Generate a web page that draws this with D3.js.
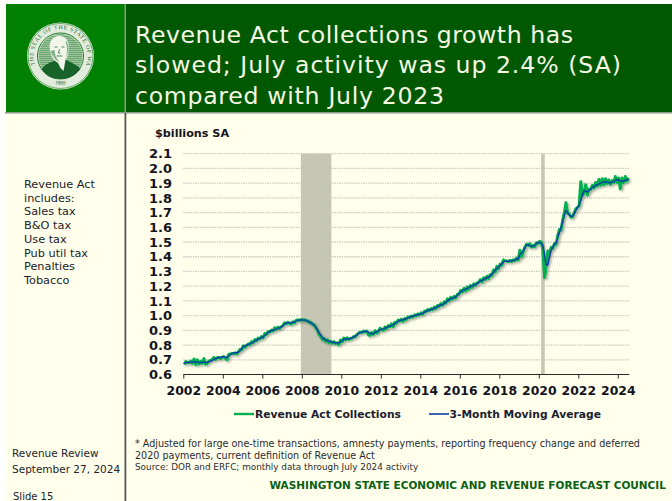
<!DOCTYPE html>
<html>
<head>
<meta charset="utf-8">
<script src="https://cdn.jsdelivr.net/npm/d3@7/dist/d3.min.js"></script>
<style>
html,body{margin:0;padding:0;background:#fff;}
svg{display:block;font-family:"DejaVu Sans",sans-serif;}
</style>
</head>
<body>
<svg id="slide" width="672" height="501"></svg>
<script>
// Title, side notes and footnotes
const titleLines = ["Revenue Act collections growth has", "slowed; July activity was up 2.4% (SA)", "compared with July 2023"];
const titleWidths = [438, 486, 309];
const sideNotes = ["Revenue Act", "includes:", "Sales tax", "B&O tax", "Use tax", "Pub util tax", "Penalties", "Tobacco"];
const footnotes = [
  "* Adjusted for large one-time transactions, amnesty payments, reporting frequency change and deferred",
  "2020 payments, current definition of Revenue Act",
  "Source: DOR and ERFC; monthly data through July 2024 activity"
];
const footnoteSizes = [9.6, 9.6, 8.85];
const yTicks = [0.6,0.7,0.8,0.9,1.0,1.1,1.2,1.3,1.4,1.5,1.6,1.7,1.8,1.9,2.0,2.1];
const xTicks = [2002,2004,2006,2008,2010,2012,2014,2016,2018,2020,2022,2024];
const recessions = [[2007.95,2009.5],[2020.12,2020.3]];
const seriesNames = ["Revenue Act Collections", "3-Month Moving Average"];

// Monthly values in $billions, January 2002 through July 2024
const collections = [
  .668,.688,.682,.680,.692,.676,.705,.668,.700,.672,.690,.675,
  .708,.670,.676,.690,.697,.700,.716,.702,.715,.716,.708,.716,
  .722,.712,.700,.735,.740,.744,.742,.748,.740,.755,.772,.766,
  .795,.785,.797,.808,.802,.824,.816,.838,.830,.848,.842,.858,
  .850,.878,.872,.892,.888,.902,.895,.918,.906,.922,.912,.925,
  .932,.952,.944,.955,.948,.942,.958,.950,.968,.972,.966,.974,
  .970,.972,.964,.966,.955,.956,.940,.938,.915,.900,.870,.860,
  .838,.846,.825,.836,.818,.826,.812,.824,.810,.815,.802,.835,
  .822,.848,.835,.850,.838,.845,.846,.858,.858,.872,.882,.888,
  .885,.895,.890,.895,.868,.866,.885,.872,.898,.882,.890,.915,
  .905,.900,.922,.912,.932,.924,.945,.925,.955,.948,.970,.962,
  .976,.960,.980,.974,.992,.986,.998,.990,1.006,.998,1.012,1.004,
  1.020,1.010,1.030,1.028,1.042,1.034,1.048,1.040,1.058,1.048,1.070,1.062,
  1.082,1.070,1.095,1.085,1.115,1.100,1.125,1.112,1.132,1.120,1.145,1.145,
  1.172,1.160,1.186,1.168,1.196,1.180,1.205,1.192,1.216,1.206,1.222,1.226,
  1.245,1.228,1.258,1.244,1.268,1.252,1.280,1.272,1.310,1.296,1.335,1.320,
  1.350,1.342,1.378,1.372,1.372,1.366,1.376,1.368,1.380,1.374,1.392,1.378,
  1.445,1.400,1.432,1.465,1.485,1.478,1.490,1.465,1.478,1.468,1.494,1.490,
  1.505,1.500,1.440,1.258,1.335,1.440,1.425,1.465,1.455,1.490,1.485,1.545,
  1.585,1.580,1.650,1.700,1.768,1.695,1.690,1.668,1.672,1.700,1.725,1.735,
  1.745,1.910,1.815,1.835,1.890,1.820,1.858,1.855,1.885,1.868,1.905,1.880,
  1.925,1.885,1.930,1.890,1.930,1.898,1.922,1.892,1.918,1.905,1.945,1.905,
  1.935,1.862,1.935,1.905,1.945,1.915,1.935
];
const movingAverage = [
  .675,.680,.683,.683,.684,.684,.685,.686,.684,.682,.682,.683,
  .684,.682,.683,.686,.690,.695,.703,.708,.712,.716,.718,.719,
  .720,.718,.716,.724,.734,.742,.746,.748,.748,.752,.762,.776,
  .790,.795,.800,.805,.810,.815,.820,.826,.833,.840,.846,.850,
  .855,.865,.875,.885,.892,.897,.900,.905,.910,.915,.918,.922,
  .930,.942,.950,.952,.952,.952,.953,.956,.962,.968,.971,.971,
  .971,.970,.968,.963,.958,.950,.945,.935,.922,.905,.885,.868,
  .852,.842,.835,.830,.826,.823,.821,.818,.816,.814,.815,.822,
  .830,.840,.842,.843,.843,.845,.850,.855,.860,.868,.878,.885,
  .888,.892,.893,.892,.888,.880,.876,.878,.885,.892,.898,.905,
  .908,.910,.915,.920,.925,.930,.933,.937,.945,.955,.963,.968,
  .970,.972,.975,.980,.985,.990,.994,.997,1.000,1.003,1.006,1.010,
  1.012,1.016,1.022,1.030,1.035,1.040,1.042,1.045,1.050,1.056,1.062,1.068,
  1.072,1.076,1.082,1.090,1.100,1.108,1.115,1.120,1.122,1.128,1.138,1.150,
  1.160,1.170,1.176,1.180,1.185,1.192,1.198,1.203,1.207,1.212,1.218,1.226,
  1.234,1.240,1.246,1.252,1.257,1.262,1.270,1.282,1.296,1.308,1.320,1.330,
  1.340,1.352,1.365,1.370,1.370,1.370,1.371,1.372,1.374,1.378,1.384,1.388,
  1.415,1.425,1.440,1.460,1.480,1.480,1.475,1.472,1.470,1.478,1.490,1.498,
  1.495,1.492,1.475,1.410,1.345,1.345,1.400,1.445,1.465,1.485,1.495,1.530,
  1.565,1.600,1.635,1.680,1.715,1.700,1.685,1.675,1.675,1.690,1.715,1.735,
  1.750,1.780,1.820,1.850,1.845,1.840,1.850,1.860,1.870,1.875,1.885,1.890,
  1.895,1.900,1.905,1.910,1.908,1.906,1.905,1.904,1.905,1.910,1.918,1.925,
  1.920,1.915,1.912,1.915,1.920,1.922,1.928
];

const cream = "#FFFFEC", inkDark = "#14141e";
const svg = d3.select("#slide");
const defs = svg.append("defs");

const shadow = defs.append("filter").attr("id","lineShadow")
  .attr("x","-5%").attr("y","-5%").attr("width","110%").attr("height","115%");
shadow.append("feDropShadow").attr("dx",1.5).attr("dy",1.5).attr("stdDeviation",1)
  .attr("flood-color","#000").attr("flood-opacity",0.35);

// Page panels
svg.append("rect").attr("x",5).attr("y",4).attr("width",667).attr("height",497).attr("fill",cream);
svg.append("rect").attr("x",6).attr("y",4).attr("width",119).attr("height",108).attr("fill","#008000");
svg.append("rect").attr("x",126).attr("y",4).attr("width",546).attr("height",108).attr("fill","#005800");
svg.append("rect").attr("x",124.5).attr("y",4).attr("width",1.5).attr("height",109).attr("fill","#8a9a8a");
svg.append("rect").attr("x",5).attr("y",112).attr("width",667).attr("height",1.5).attr("fill","#8a9a8a");
svg.append("rect").attr("x",124.5).attr("y",113).attr("width",1.8).attr("height",388).attr("fill","#55555a");

// State seal
const seal = svg.append("g").attr("transform","translate(60.5,56)");
seal.append("circle").attr("r",33.5).attr("fill","#e2ecdc");
seal.append("circle").attr("r",32.5).attr("fill","none").attr("stroke","#2f8a3a").attr("stroke-width",0.7);
seal.append("circle").attr("r",23).attr("fill","#e2ecdc").attr("stroke","#1f7a2c").attr("stroke-width",1);
const hatch = defs.append("pattern").attr("id","sealHatch").attr("width",2).attr("height",2)
  .attr("patternUnits","userSpaceOnUse");
hatch.append("rect").attr("width",2).attr("height",2).attr("fill","#bcd6b8");
hatch.append("path").attr("d","M0 0H2M0 0V2").attr("stroke","#2c8238").attr("stroke-width",0.9);
seal.append("circle").attr("r",22).attr("fill","url(#sealHatch)");
// Portrait: shoulders, collar, head and shading
seal.append("path").attr("d","M-19 13C-14 7-9 6-4 4L6 4C11 7 17 9 20 13C14 21 6 23 0 23C-8 23-15 20-19 13Z").attr("fill","#17632a");
seal.append("path").attr("d","M-4 4L5 4L3 15L0 12Z").attr("fill","#f1f5ea");
seal.append("path").attr("d","M-11-9C-11-17-5-21 0-20C7-19 9-13 8-6C8 1 5 6 0 7C-6 7-10 1-11-9Z").attr("fill","#f1f5ea");
seal.append("path").attr("d","M-10-5C-8 1-4 5-1 6C-4 3-6-1-6-6ZM5-14C7-10 7-3 5 2C8-2 9-10 6-15Z").attr("fill","#7fb083");
seal.append("path").attr("d","M-6-9H-3M1-9H4M-1-7L-2-3H0M-4 0H2").attr("fill","none").attr("stroke","#2f6f36").attr("stroke-width",0.8);
defs.append("path").attr("id","sealTop").attr("d","M-25.5 9A27 27 0 1 1 25.5 9");
defs.append("path").attr("id","sealBottom").attr("d","M-16 24A29.5 29.5 0 0 0 16 24");
seal.append("text").attr("font-size",5.8).attr("font-family","Liberation Serif").attr("fill","#1a6628")
  .attr("letter-spacing",0.65)
  .append("textPath").attr("href","#sealTop").text("THE SEAL OF THE STATE OF WASHINGTON");
seal.append("text").attr("font-size",5.6).attr("font-family","Liberation Serif").attr("fill","#1a6628")
  .attr("x",11)
  .append("textPath").attr("href","#sealBottom").text("1889");

// Headline
svg.selectAll("text.headline").data(titleLines).join("text").attr("class","headline")
  .attr("x",135).attr("y",(d,i)=>42.5+i*30.5)
  .attr("textLength",(d,i)=>titleWidths[i]).attr("lengthAdjust","spacing")
  .attr("font-size",23.6).attr("fill","#f6f8e4").text(d=>d);

// Side notes and slide details
svg.selectAll("text.side").data(sideNotes).join("text").attr("class","side")
  .attr("x",24).attr("y",(d,i)=>188+i*13.72)
  .attr("font-size",11.3).attr("fill","#22222a").text(d=>d);
[["Revenue Review",12,457,10.5],["September 27, 2024",12,473,10.5],["Slide 15",13,500,10]].forEach(([t,px,py,fs])=>{
  svg.append("text").attr("x",px).attr("y",py).attr("font-size",fs).attr("fill","#22222a").text(t);
});
svg.selectAll("text.note").data(footnotes).join("text").attr("class","note")
  .attr("x",135).attr("y",(d,i)=>447+i*11.5)
  .attr("font-size",(d,i)=>footnoteSizes[i]).attr("fill","#2a2a30").text(d=>d);
svg.append("text").attr("x",269.5).attr("y",489).attr("font-size",10.47).attr("font-weight","bold")
  .attr("fill","#0b5f12").text("WASHINGTON STATE ECONOMIC AND REVENUE FORECAST COUNCIL");

// Chart scales
const x = d3.scaleLinear().domain([2002,2024]).range([183.3,617.8]);
const y = d3.scaleLinear().domain([0.6,2.1]).range([374.5,153.7]);
const monthPos = i => 2002 + (i + 0.5) / 12;

svg.append("text").attr("x",155).attr("y",137).attr("font-size",11.2).attr("font-weight","bold")
  .attr("fill",inkDark).text("$billions SA");

// Horizontal gridlines
svg.append("g").selectAll("line").data(yTicks.slice(1)).join("line")
  .attr("x1",183.3).attr("x2",x(2024.58))
  .attr("y1",d=>y(d)).attr("y2",d=>y(d))
  .attr("stroke","#c9c9c0").attr("stroke-width",1.3).attr("stroke-dasharray","1.4 1");

// Recession shading
svg.append("g").selectAll("rect").data(recessions).join("rect")
  .attr("x",d=>x(d[0])).attr("width",d=>x(d[1])-x(d[0]))
  .attr("y",y(2.1)).attr("height",y(0.6)-y(2.1))
  .attr("fill","#C6C6B4");

// Axes
const yAxis = d3.axisLeft(y).tickValues(yTicks).tickFormat(d3.format(".1f")).tickSize(0).tickPadding(0);
const gy = svg.append("g").attr("transform","translate(172,0)").call(yAxis);
gy.select(".domain").remove();
gy.selectAll("text").attr("font-size",13).attr("font-weight","bold")
  .attr("font-family","DejaVu Sans").attr("fill",inkDark);

const xAxis = d3.axisBottom(x).tickValues(xTicks).tickFormat(d3.format("d")).tickSize(4).tickPadding(8);
const gx = svg.append("g").attr("transform","translate(0,374.5)").call(xAxis);
gx.select(".domain").attr("d",`M183.3,0H${x(2024.58)}`).attr("stroke","#2a2a2a").attr("stroke-width",1);
gx.selectAll("line").attr("stroke","#2a2a2a");
gx.selectAll("text").attr("font-size",12.4).attr("font-weight","bold")
  .attr("font-family","DejaVu Sans").attr("fill",inkDark);

// Series
const line = d3.line().x((d,i)=>x(monthPos(i))).y(d=>y(d)).curve(d3.curveLinear);
const plot = svg.append("g").attr("filter","url(#lineShadow)");
plot.append("path").datum(collections).attr("d",line).attr("fill","none")
  .attr("stroke","#00B050").attr("stroke-width",2.9).attr("stroke-linejoin","round");
plot.append("path").datum(movingAverage).attr("d",line).attr("fill","none")
  .attr("stroke","#0B3FA6").attr("stroke-width",1.5).attr("stroke-linejoin","round");

// Legend
const legendItems = [
  {name:seriesNames[0],color:"#00B050",w:2.4,x0:234,x1:254,tx:255},
  {name:seriesNames[1],color:"#0B3FA6",w:1.6,x0:429,x1:449,tx:449.5}
];
const lg = svg.append("g").selectAll("g").data(legendItems).join("g");
lg.append("line").attr("x1",d=>d.x0).attr("x2",d=>d.x1).attr("y1",414).attr("y2",414)
  .attr("stroke",d=>d.color).attr("stroke-width",d=>d.w);
lg.append("text").attr("x",d=>d.tx).attr("y",418).attr("font-size",10.72).attr("font-weight","bold")
  .attr("fill","#20202c").text(d=>d.name);
</script>
</body>
</html>
